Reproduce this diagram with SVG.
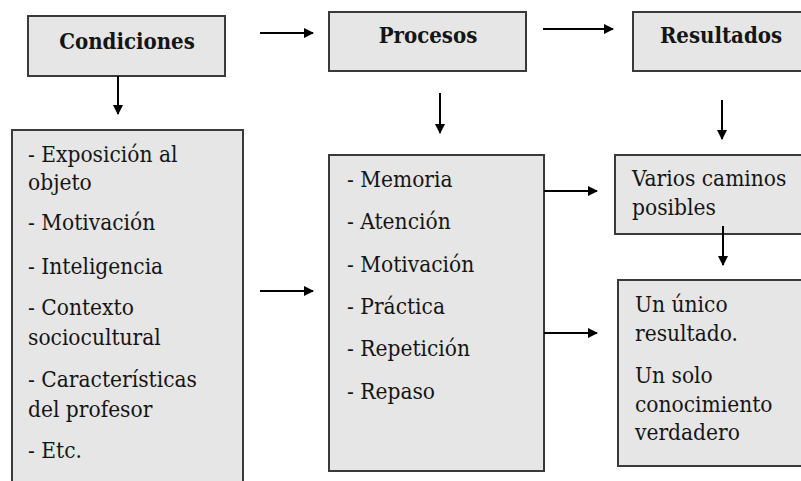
<svg xmlns="http://www.w3.org/2000/svg" width="801" height="481" viewBox="0 0 801 481">
<style>
.box{fill:#e6e6e6;stroke:#3a3a3a;stroke-width:2}
text{font-family:'DejaVu Serif Condensed','DejaVu Serif',serif;font-stretch:condensed;font-size:22.5px;fill:#151515}
.h{font-weight:bold;text-anchor:middle;font-size:22px}
.c{stroke:#000;stroke-width:2;fill:none;marker-end:url(#ah)}
</style>
<defs>
<marker id="ah" markerWidth="10" markerHeight="10" refX="9" refY="5" orient="auto" markerUnits="userSpaceOnUse">
<path d="M0,0 L10,5 L0,10 Z" fill="#000"/>
</marker>
</defs>
<rect width="801" height="481" fill="#fff"/>
<g id="condiciones">
<rect class="box" x="28" y="16" width="197" height="60"/>
<text class="h" x="127" y="49">Condiciones</text>
</g>
<g id="procesos">
<rect class="box" x="329" y="12" width="197" height="59"/>
<text class="h" x="428" y="43">Procesos</text>
</g>
<g id="resultados">
<rect class="box" x="633" y="12" width="180" height="59"/>
<text class="h" x="721" y="43">Resultados</text>
</g>
<g id="lista-condiciones">
<rect class="box" x="12" y="130" width="231" height="360"/>
<text x="28" y="162">- Exposición al</text>
<text x="28" y="190">objeto</text>
<text x="28" y="230">- Motivación</text>
<text x="28" y="274">- Inteligencia</text>
<text x="28" y="315">- Contexto</text>
<text x="28" y="345">sociocultural</text>
<text x="28" y="387">- Características</text>
<text x="28" y="417">del profesor</text>
<text x="28" y="458">- Etc.</text>
</g>
<g id="lista-procesos">
<rect class="box" x="329" y="155" width="215" height="316"/>
<text x="347" y="187">- Memoria</text>
<text x="347" y="229">- Atención</text>
<text x="347" y="272">- Motivación</text>
<text x="347" y="314">- Práctica</text>
<text x="347" y="356">- Repetición</text>
<text x="347" y="399">- Repaso</text>
</g>
<g id="varios">
<rect class="box" x="615" y="155" width="200" height="79"/>
<text x="632" y="186">Varios caminos</text>
<text x="632" y="215">posibles</text>
</g>
<g id="unico">
<rect class="box" x="618" y="280" width="200" height="186"/>
<text x="635" y="312">Un único</text>
<text x="635" y="341">resultado.</text>
<text x="635" y="383">Un solo</text>
<text x="635" y="412">conocimiento</text>
<text x="635" y="440">verdadero</text>
</g>
<g id="connectors">
<line class="c" x1="260" y1="33" x2="313" y2="33"/>
<line class="c" x1="543" y1="29" x2="613" y2="29"/>
<line class="c" x1="118" y1="76" x2="118" y2="114"/>
<line class="c" x1="440" y1="93" x2="440" y2="133"/>
<line class="c" x1="722" y1="100" x2="722" y2="139"/>
<line class="c" x1="260" y1="291" x2="313" y2="291"/>
<line class="c" x1="544" y1="191" x2="597" y2="191"/>
<line class="c" x1="544" y1="333" x2="597" y2="333"/>
<line class="c" x1="723" y1="226" x2="723" y2="265"/>
</g>
</svg>
